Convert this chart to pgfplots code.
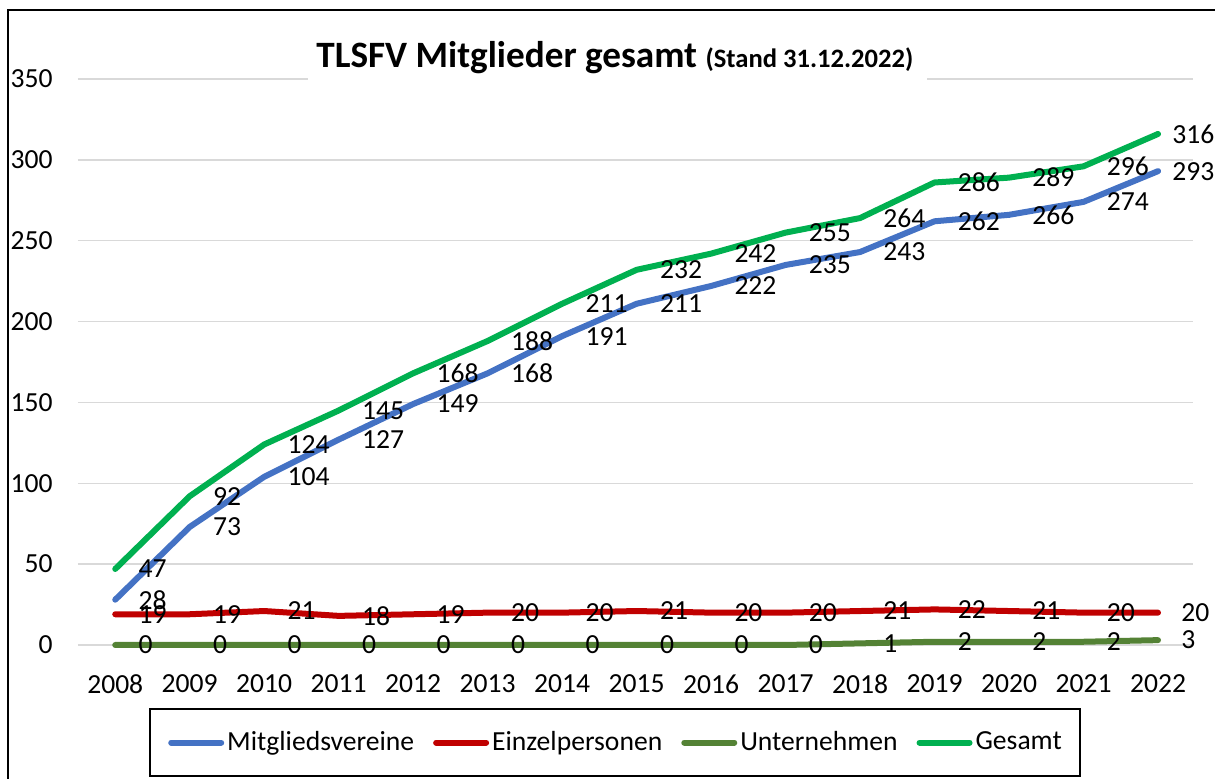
\documentclass[border=0pt]{standalone}
\usepackage{pgfplots}
\pgfplotsset{compat=1.18}
\usepackage{pgfplotstable}
\usepackage{fontspec}
\setmainfont{Carlito}
\definecolor{cMv}{HTML}{4472C4}
\definecolor{cEp}{HTML}{C00000}
\definecolor{cUn}{HTML}{548235}
\definecolor{cGes}{HTML}{00B050}
\definecolor{gridgray}{HTML}{D9D9D9}
\pgfplotstableread{
x Mv Ep Un Ges
0 28 19 0 47
1 73 19 0 92
2 104 21 0 124
3 127 18 0 145
4 149 19 0 168
5 168 20 0 188
6 191 20 0 211
7 211 21 0 232
8 222 20 0 242
9 235 20 0 255
10 243 21 1 264
11 262 22 2 286
12 266 21 2 289
13 274 20 2 296
14 293 20 3 316
}\datatable
\newcommand{\lblfont}{\fontsize{13.8}{16}\selectfont}
\begin{document}
\begin{tikzpicture}[x=1pt,y=1pt]
\path[use as bounding box] (0,0) rectangle (607.5,389.5);
\begin{axis}[
  at={(39pt,67pt)}, anchor=south west,
  scale only axis, width=557.5pt, height=283pt,
  xmin=-0.5, xmax=14.47, ymin=0, ymax=350,
  axis line style={draw=none},
  major tick length=0pt,
  tick style={draw=none},
  xtick={0,1,...,14},
  xticklabels={2008,2009,2010,2011,2012,2013,2014,2015,2016,2017,2018,2019,2020,2021,2022},
  ytick={0,50,...,350},
  ymajorgrids,
  grid style={gridgray, line width=0.75pt},
  tick label style={font=\lblfont},
  xticklabel style={inner sep=0pt, anchor=north, yshift=-14.5pt},
  yticklabel style={inner sep=0pt, anchor=east, xshift=-12.5pt},
  /pgf/number format/assume math mode=true,
  clip=false,
  every node near coord/.append style={anchor=west, xshift=11.5pt, inner sep=0pt, font=\lblfont, text=black},
  legend columns=4,
  legend image code/.code={\draw[#1, line cap=round] (1.5pt,0pt) -- (26.5pt,0pt);},
  legend style={at={(axis description cs:0.4816,-0.1723)}, anchor=center,
    draw=black, line width=1pt, font=\lblfont,
    inner xsep=9pt, inner ysep=11pt,
    nodes={inner sep=0pt},
    column sep=1.5pt,
    /tikz/every even column/.append style={column sep=9.5pt}},
]
\addplot[cMv, line width=3pt, line cap=round, line join=round] table[x=x,y=Mv]{\datatable};
\addlegendentry{Mitgliedsvereine}
\addplot[cEp, line width=3pt, line cap=round, line join=round] table[x=x,y=Ep]{\datatable};
\addlegendentry{Einzelpersonen}
\addplot[cUn, line width=3pt, line cap=round, line join=round] table[x=x,y=Un]{\datatable};
\addlegendentry{Unternehmen}
\addplot[cGes, line width=3pt, line cap=round, line join=round] table[x=x,y=Ges]{\datatable};
\addlegendentry{Gesamt}
\addplot[draw=none, forget plot, nodes near coords, restrict x to domain=0:13] table[x=x,y=Mv]{\datatable};
\addplot[draw=none, forget plot, nodes near coords, restrict x to domain=14:14,
  every node near coord/.append style={xshift=-4.5pt}] table[x=x,y=Mv]{\datatable};
\addplot[draw=none, forget plot, nodes near coords] table[x=x,y=Ep]{\datatable};
\addplot[draw=none, forget plot, nodes near coords] table[x=x,y=Un]{\datatable};
\addplot[draw=none, forget plot, nodes near coords, restrict x to domain=0:13] table[x=x,y=Ges]{\datatable};
\addplot[draw=none, forget plot, nodes near coords, restrict x to domain=14:14,
  every node near coord/.append style={xshift=-4.5pt}] table[x=x,y=Ges]{\datatable};
\end{axis}
\fill[white] (154,345) rectangle (463.5,372);
\node[anchor=base west, inner sep=0pt, font=\bfseries\fontsize{18.6}{22}\selectfont] at (158,355.5) {TLSFV Mitglieder gesamt {\fontsize{13.3}{16}\selectfont (Stand 31.12.2022)}};
\draw[line width=1pt] (4,0) -- (4,384.5) -- (607.5,384.5);
\end{tikzpicture}
\end{document}
